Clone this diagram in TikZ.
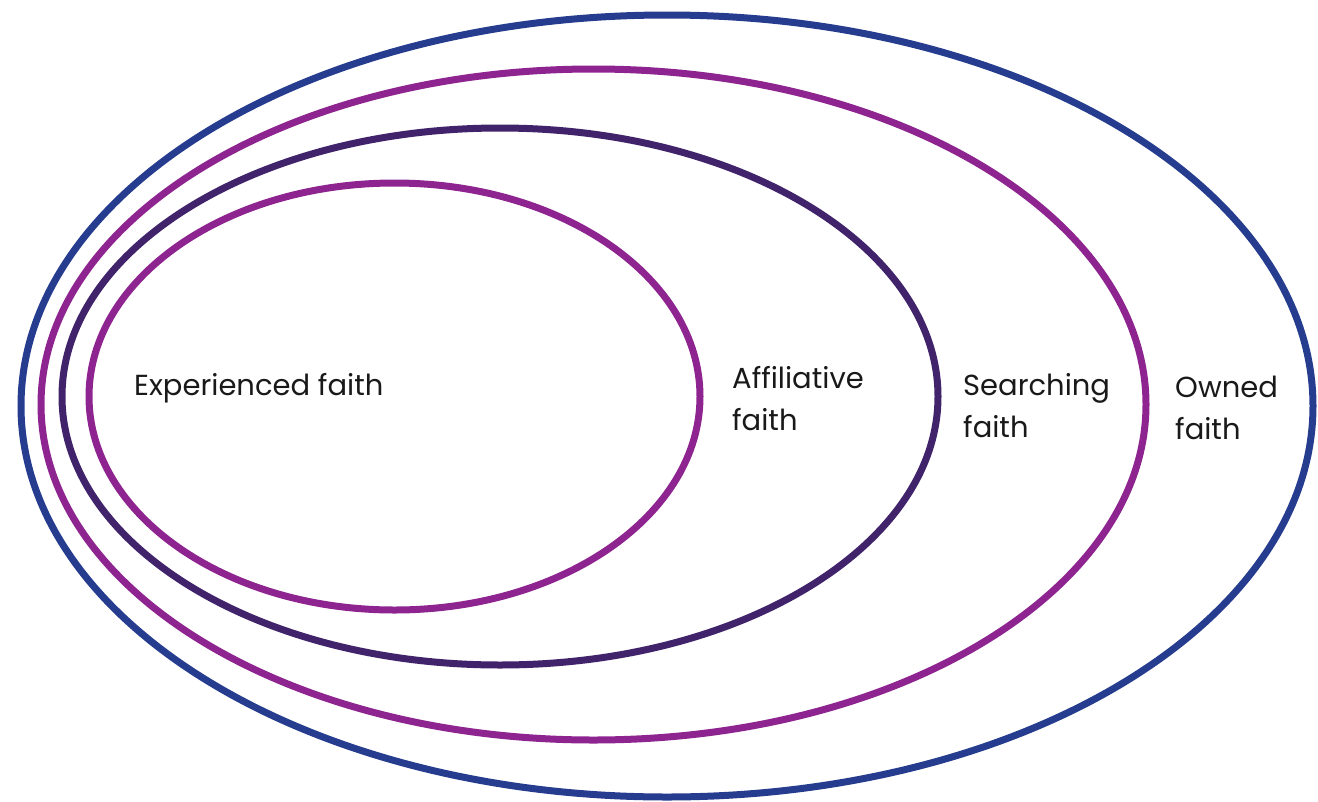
\documentclass[tikz,border=0pt]{standalone}
\usepackage{fontspec}
\setmainfont{Poppins}
\definecolor{ringblue}{HTML}{263C8E}
\definecolor{ringmagenta}{HTML}{8E2490}
\definecolor{ringpurple}{HTML}{40236A}
\begin{document}
\begin{tikzpicture}[x=1pt,y=-1pt,
  ring/.style={line width=7pt},
  lbl/.style={anchor=base west, inner sep=0pt, align=left, font=\fontsize{29}{42}\selectfont, text=black!90}]
\useasboundingbox (0,0) rectangle (1318,801);
\draw[ring, ringblue] (667,406) ellipse [x radius=646, y radius=391];
\draw[ring, ringmagenta] (593.5,404.5) ellipse [x radius=552.5, y radius=335.5];
\draw[ring, ringpurple] (500,396.5) ellipse [x radius=438, y radius=268.5];
\draw[ring, ringmagenta] (394.5,396.5) ellipse [x radius=305.5, y radius=213.5];
\node[lbl] (exp) at (134,395) {Experienced faith};
\node[lbl] (aff) at (732,430) {Affiliative\\faith};
\node[lbl] (sea) at (963,437) {Searching\\faith};
\node[lbl] (own) at (1175,439) {Owned\\faith};
\end{tikzpicture}
\end{document}
